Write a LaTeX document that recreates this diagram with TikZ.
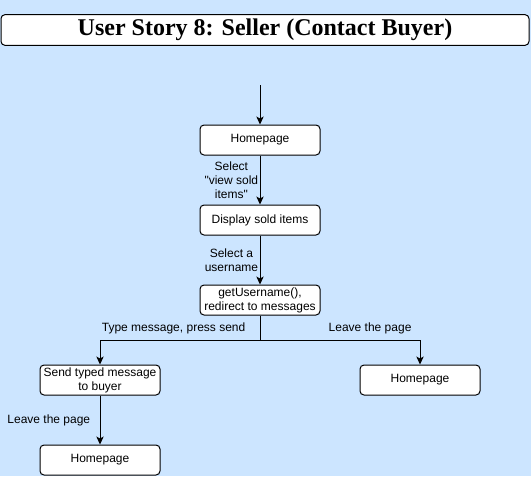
\documentclass[tikz,border=0pt]{standalone}
\usepackage{fontspec}
\setmainfont{Liberation Sans}[Ligatures=TeXOff]
\newfontfamily\titlefont{Liberation Serif}
\usepackage{tikz}
\usetikzlibrary{arrows.meta}
\definecolor{sky}{HTML}{CCE5FF}
\tikzstyle{flow}=[x=0.75pt, y=-0.75pt, line width=0.75pt, font=\fontsize{9}{10.5}\selectfont]
\tikzstyle{step box}=[rectangle, rounded corners=3pt, draw, fill=white, align=center, minimum width=90pt, minimum height=22.5pt, inner sep=1pt]
\tikzstyle{title}=[rectangle, rounded corners=3pt, draw, fill=white, minimum width=396pt, minimum height=22.5pt, font=\titlefont\fontsize{18}{20}\selectfont\bfseries]
\tikzstyle{edge}=[-{Stealth[length=6pt, width=5.5pt, inset=1.5pt]}]
\tikzstyle{edgeLabel}=[align=center, inner sep=1pt]

\begin{document}
\begin{tikzpicture}[flow]
	\fill[sky] (0,0) rectangle (531,476);
	\useasboundingbox (0,0) rectangle (531,476);
	\draw (265,30) node[title] (head) {User Story 8: Seller (Contact Buyer)};
	\coordinate (start) at (260,85);
	\draw (260,140) node[step box] (home1) {Homepage};
	\draw (260,220) node[step box] (sold) {Display sold items};
	\draw (260,300) node[step box] (user) {getUsername(),\\redirect to messages};
	\coordinate (split) at (260,340);
	\draw (100,380) node[step box] (send) {Send typed message\\to buyer};
	\draw (420,380) node[step box] (home2) {Homepage};
	\draw (100,460) node[step box] (home3) {Homepage};
	\draw[edge] (start) -- (home1);
	\draw[edge] (home1) -- (sold) node[edgeLabel, midway, left] (lsold) {Select\\"view sold\\items"};
	\draw[edge] (sold) -- (user) node[edgeLabel, midway, left] (luser) {Select a\\username};
	\draw (user) -- (split);
	\draw[edge] (split) -| (send) node[edgeLabel, pos=0.27, above=3pt] (lsend) {Type message, press send};
	\draw[edge] (split) -| (home2) node[edgeLabel, pos=0.344, above=3pt] (lleave) {Leave the page};
	\draw[edge] (send) -- (home3) node[edgeLabel, midway, left=6pt] (lback) {Leave the page};
\end{tikzpicture}
\end{document}
